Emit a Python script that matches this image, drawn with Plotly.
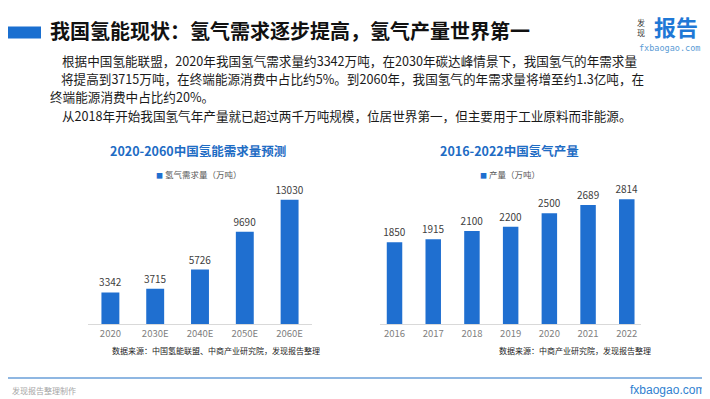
import plotly.graph_objects as go

# ---------------- data ----------------
demand_years = ["2020", "2030E", "2040E", "2050E", "2060E"]
demand_values = [3342, 3715, 5726, 9690, 13030]

prod_years = ["2016", "2017", "2018", "2019", "2020", "2021", "2022"]
prod_values = [1850, 1915, 2100, 2200, 2500, 2689, 2814]

title_text = "我国氢能现状：氢气需求逐步提高，氢气产量世界第一"
para_lines = [
    "根据中国氢能联盟，2020年我国氢气需求量约3342万吨，在2030年碳达峰情景下，我国氢气的年需求量",
    "将提高到3715万吨，在终端能源消费中占比约5%。到2060年，我国氢气的年需求量将增至约1.3亿吨，在",
    "终端能源消费中占比约20%。",
    "从2018年开始我国氢气年产量就已超过两千万吨规模，位居世界第一，但主要用于工业原料而非能源。",
]
# text centre positions (px) of each paragraph line
para_cx = [341.5, 344, 123.5, 338.5]
para_y = [52.2, 70.5, 88.8, 107.5]

left_title = "2020-2060中国氢能需求量预测"
left_legend = "氢气需求量（万吨）"
left_source = "数据来源：中国氢能联盟、中商产业研究院，发现报告整理"
right_title = "2016-2022中国氢气产量"
right_legend = "产量（万吨）"
right_source = "数据来源：中商产业研究院，发现报告整理"

# ---------------- style ----------------
W, H = 710, 399
BLUE = "#1f6fd0"
TITLE_BLUE = "#1e6cc4"
FONT = "Noto Sans CJK SC"


def px(x):
    return x / W


def py(y):
    return 1 - y / H


fig = go.Figure()

fig.add_trace(go.Bar(
    x=demand_years, y=demand_values, width=0.4,
    marker=dict(color=BLUE, line=dict(width=0)),
    text=[str(v) for v in demand_values], textposition="outside",
    textfont=dict(size=10, color="#404040", family=FONT),
    constraintext="none",
    cliponaxis=False, showlegend=False, xaxis="x", yaxis="y",
    hoverinfo="x+y",
))
fig.add_trace(go.Bar(
    x=prod_years, y=prod_values, width=0.4,
    marker=dict(color=BLUE, line=dict(width=0)),
    text=[str(v) for v in prod_values], textposition="outside",
    textfont=dict(size=10, color="#404040", family=FONT),
    constraintext="none",
    cliponaxis=False, showlegend=False, xaxis="x2", yaxis="y2",
    hoverinfo="x+y",
))

ydom = [py(316.4), py(174.8)]
axis_common = dict(
    showgrid=False, zeroline=False, ticks="", showline=True,
    linecolor="#d9d9d9", linewidth=1,
    tickfont=dict(size=9.5, color="#808080", family=FONT),
    type="category",
)

fig.update_layout(
    width=W, height=H, autosize=False,
    margin=dict(l=0, r=0, t=0, b=0),
    paper_bgcolor="white", plot_bgcolor="white",
    font=dict(family=FONT),
    bargap=0.6,
    xaxis=dict(domain=[px(80), px(304)], anchor="y", range=[-0.5, 4.5], **axis_common),
    yaxis=dict(domain=ydom, anchor="x", range=[0, 14800], visible=False),
    xaxis2=dict(domain=[px(372), px(633.3)], anchor="y2", range=[-0.375, 6.375], **axis_common),
    yaxis2=dict(domain=ydom, anchor="x2", range=[0, 3187], visible=False),
)

ann = []


def add_text(text, x, y, size, color, family=FONT):
    # all texts are placed by their centre, which is robust to font measurement
    ann.append(dict(
        text=text, x=px(x), y=py(y), xref="paper", yref="paper",
        xanchor="center", yanchor="middle", showarrow=False, align="center",
        borderpad=0, borderwidth=0,
        font=dict(size=size, color=color, family=family),
    ))


# header
add_text("<b>" + title_text + "</b>", 282, 22, 20, "#111111")
for line, cx, yy in zip(para_lines, para_cx, para_y):
    add_text(line, cx, yy, 12.6, "#1a1a1a")

# logo
add_text("<b>报告</b>", 667.5, 18.5, 22, "#1f78d6")
add_text("发<br>现", 633, 19.5, 8, "#333333")
add_text("fxbaogao.com", 661, 40, 8.5, "#5a9bd5", family="DejaVu Sans Mono")

# chart titles / legends / sources
add_text("<b>" + left_title + "</b>", 190.5, 142, 12.5, TITLE_BLUE)
add_text("<b>" + right_title + "</b>", 502, 142, 12.5, TITLE_BLUE)
add_text("<span style='color:%s;font-size:7px'>■</span> " % BLUE + left_legend, 191, 166, 8.5, "#595959")
add_text("<span style='color:%s;font-size:7px'>■</span> " % BLUE + right_legend, 502, 166, 8.5, "#595959")
add_text(left_source, 208, 342, 8, "#222222")
add_text(right_source, 566.5, 342, 8, "#222222")

# footer
add_text("发现报告整理制作", 35.5, 382, 8, "#a6a6a6")
add_text("fxbaogao.com", 659, 382, 12, "#2f7fd0", family="Liberation Sans")

fig.update_layout(
    annotations=ann,
    shapes=[
        dict(type="rect", xref="paper", yref="paper",
             x0=px(0), x1=px(33), y0=py(30.5), y1=py(18.5),
             fillcolor="#1a6fd0", line=dict(width=0)),
        dict(type="line", xref="paper", yref="paper",
             x0=0, x1=px(708), y0=py(370), y1=py(370),
             line=dict(color="#6a9fd8", width=1.5)),
    ],
)

fig.write_html("out.html")
